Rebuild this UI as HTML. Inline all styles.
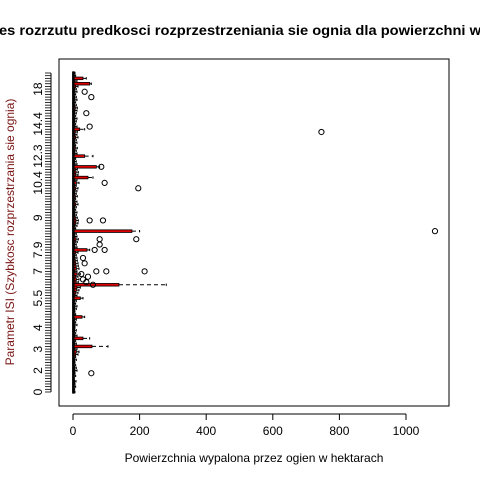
<!DOCTYPE html>
<html><head><meta charset="utf-8"><style>
html,body{margin:0;padding:0;background:#fff;width:480px;height:480px;overflow:hidden}
svg text{font-family:"Liberation Sans",Arial,sans-serif}
</style></head><body>
<svg id="chart" width="480" height="480" xmlns="http://www.w3.org/2000/svg">
<text x="-1" y="35" font-size="13.5" font-weight="bold" textLength="482" lengthAdjust="spacingAndGlyphs">es rozrzutu predkosci rozprzestrzeniania sie ognia dla powierzchni w</text>
<rect x="59" y="59" width="390" height="347" fill="none" stroke="#000" stroke-width="1"/>
<text x="254" y="462" text-anchor="middle" font-size="12">Powierzchnia wypalona przez ogien w hektarach</text>
<text transform="translate(14,232) rotate(-90)" text-anchor="middle" font-size="12" fill="#7a1515">Parametr ISI (Szybkosc rozprzestrzania sie ognia)</text>
<g id="g"></g>
</svg>
<script>
const xTicks=[0,200,400,600,800,1000];
const yLabels=["0","2","3","4","5.5","7","7.9","9","10.4","12.3","14.4","18"];
const yLabelIdx=[0,8,16,24,35,45,53,65,78,88,100,113];
// q3 (upper quartile) per ISI category (120 categories)
const q3=[3,2,4,3,5,2,4,3,6,5,4,3,5,4,8,10,6,57,5,4,30,6,4,5,3,6,4,5,27,4,3,5,6,4,5,22,6,8,10,12,138,9,10,8,12,6,10,9,8,7,6,5,8,42,6,5,7,9,6,5,177,4,6,8,9,7,5,6,4,5,8,6,4,7,5,6,8,5,10,6,45,8,9,7,70,6,5,4,35,6,5,7,4,6,5,8,6,7,20,6,4,5,6,4,5,6,7,5,4,6,5,4,6,5,8,50,6,30,4,3];
// upper whisker per category
const whisk=[6,5,8,6,9,4,8,6,12,10,8,6,10,8,15,18,12,105,10,8,50,12,8,10,6,12,8,10,35,8,6,10,12,8,10,30,12,15,18,22,280,16,18,15,22,12,18,16,15,13,12,10,15,50,12,10,13,16,12,10,200,8,12,15,16,13,10,12,8,10,15,12,8,13,10,12,15,10,18,12,60,15,16,13,80,12,10,8,60,12,10,13,8,12,10,15,12,13,35,12,8,10,12,8,10,12,13,10,8,12,10,8,12,10,15,55,12,40,8,6];
// outliers: category index and value
const outCat=[7,40,41,42,43,44,45,45,45,48,50,53,53,55,57,57,60,64,64,76,78,84,97,99,104,110,112];
const outVal=[55,60,40,30,45,25,215,100,70,35,30,65,95,80,190,80,1087,90,50,196,95,85,746,50,40,55,35];
const N=q3.length;
const X=v=>73+v*(333/1000);
const Y=i=>392-i*(319/119);
const g=document.getElementById('g');
const NS='http://www.w3.org/2000/svg';
function mk(t,a){const e=document.createElementNS(NS,t);for(const k in a)e.setAttribute(k,a[k]);g.appendChild(e);return e;}
let ax=mk('line',{x1:X(0),x2:X(1000),y1:414,y2:414,stroke:'#000'});


xTicks.forEach(v=>{
 const t=mk('line',{x1:X(v),x2:X(v),y1:414,y2:420,stroke:'#000'});
 
 
 const l=mk('text',{x:X(v),y:435,'text-anchor':'middle','font-size':12});
 l.textContent=v;
 
 
});
let ay=mk('line',{x1:51,x2:51,y1:Y(0),y2:Y(N-1),stroke:'#000'});


for(let i=0;i<N;i++){
 const t=mk('line',{x1:45,x2:51,y1:Y(i),y2:Y(i),stroke:'#000','stroke-width':0.8});
 
 
}
yLabels.forEach((s,k)=>{
 const y=Y(yLabelIdx[k]);
 const l=mk('text',{transform:`translate(42,${y}) rotate(-90)`,'text-anchor':'middle','font-size':12});
 l.textContent=s;
 
 
});
for(let i=0;i<N;i++){
 const y=Y(i);
 const w=mk('line',{x1:X(q3[i]),x2:X(whisk[i]),y1:y,y2:y,stroke:'#000','stroke-dasharray':'4,3','stroke-width':1});
 
 
 const c=mk('line',{x1:X(whisk[i]),x2:X(whisk[i]),y1:y-1.2,y2:y+1.2,stroke:'#000'});
 
 
 const b=mk('rect',{x:X(0.5),y:y-1.3,width:Math.max(X(q3[i])-X(0.5),1),height:2.6,fill:'#e00000',stroke:'#000','stroke-width':0.8});
 
 
 const m=mk('line',{x1:X(1),x2:X(1),y1:y-1.5,y2:y+1.5,stroke:'#000','stroke-width':2.5});
 
 
}
outCat.forEach((ci,k)=>{
 const p=mk('circle',{cx:X(outVal[k]),cy:Y(ci),r:2.6,fill:'none',stroke:'#000','stroke-width':1});
 
 
});
</script>
</body></html>
